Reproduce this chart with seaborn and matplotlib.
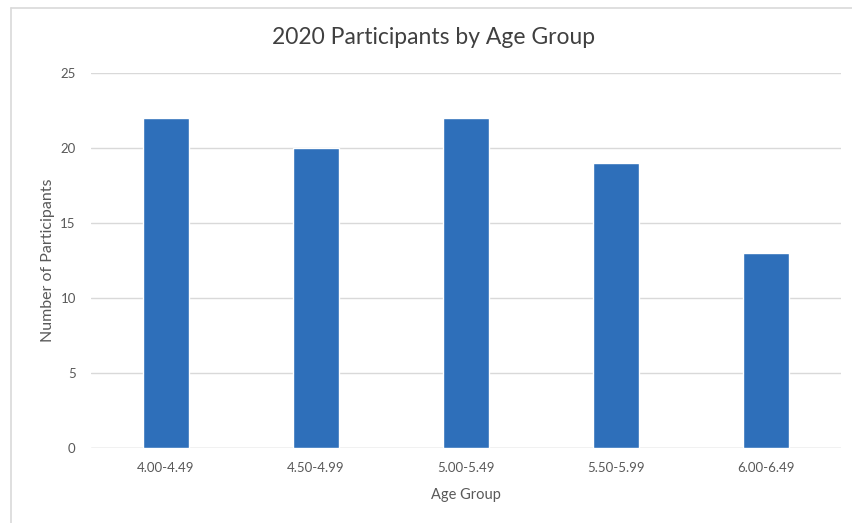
import matplotlib
matplotlib.use("Agg")
import matplotlib.pyplot as plt
import seaborn as sns
import pandas as pd
from matplotlib.lines import Line2D

age_groups = ["4.00-4.49", "4.50-4.99", "5.00-5.49", "5.50-5.99", "6.00-6.49"]
participants = [22, 20, 22, 19, 13]
y_ticks = [0, 5, 10, 15, 20, 25]

sns.set_theme(style="white")
plt.rcParams["font.family"] = ["Lato", "DejaVu Sans"]

df = pd.DataFrame({"Age Group": age_groups, "Participants": participants})

fig = plt.figure(figsize=(8.53, 5.23), dpi=100)
ax = fig.add_axes([0.1067, 0.1434, 0.8793, 0.7170])

sns.barplot(data=df, x="Age Group", y="Participants", color="#2E6FBA",
            saturation=1, width=0.31, ax=ax)

ax.set_ylim(0, 25)
ax.set_yticks(y_ticks)
ax.set_xlim(-0.5, len(age_groups) - 0.5)
ax.yaxis.grid(True, color="#D9D9D9", linewidth=1)
ax.set_axisbelow(True)
for s in ax.spines.values():
    s.set_visible(False)
ax.axhline(0, color="#D9D9D9", linewidth=1, zorder=0.5)

ax.tick_params(axis="both", length=0, labelsize=9.5, labelcolor="#595959")
ax.tick_params(axis="y", pad=11)
ax.tick_params(axis="x", pad=10)
ax.set_xlabel("Age Group", fontsize=10.5, color="#595959", labelpad=10)
ax.set_ylabel("Number of Participants", fontsize=11.5, color="#595959", labelpad=4)
fig.text(434 / 853, 1 - 37 / 523, "2020 Participants by Age Group",
         ha="center", va="center", fontsize=16.5, color="#404040")

# chart frame
fig.add_artist(Line2D([11 / 853, 11 / 853], [0, 1 - 8 / 523], transform=fig.transFigure,
                      color="#D9D9D9", linewidth=1.2))
fig.add_artist(Line2D([11 / 853, 1], [1 - 8 / 523, 1 - 8 / 523], transform=fig.transFigure,
                      color="#D9D9D9", linewidth=1.2))

fig.savefig("out.png", dpi=100)
